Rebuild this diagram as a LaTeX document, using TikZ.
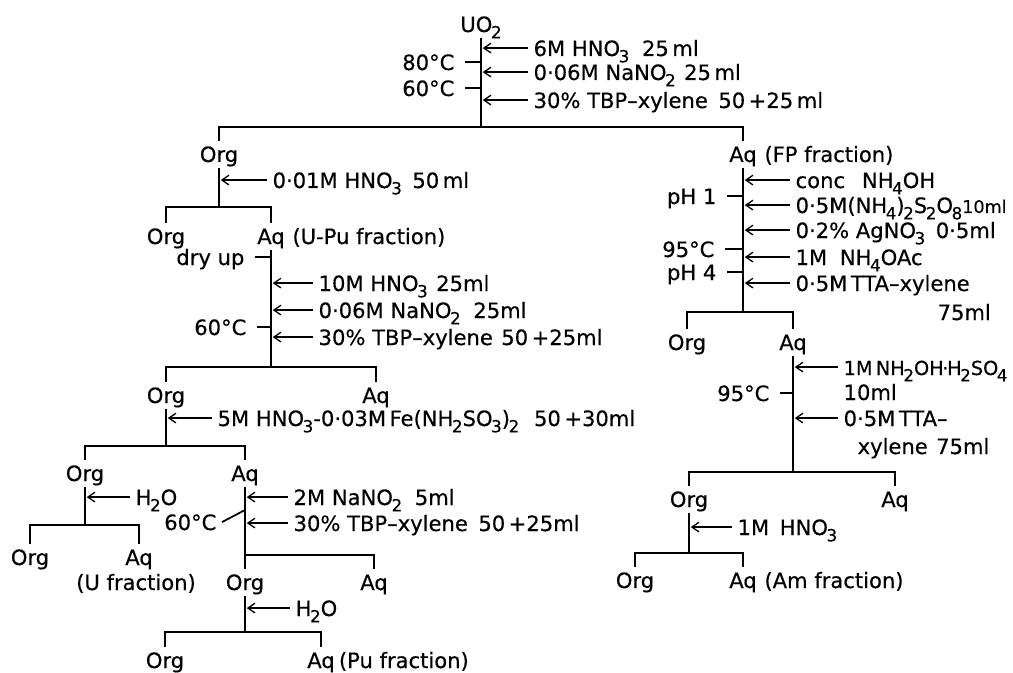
\documentclass[tikz,border=0pt]{standalone}
\usepackage{fontspec}
\setsansfont{DejaVu Sans}[FakeBold=0.4]
\usetikzlibrary{arrows.meta,positioning}
\newcommand{\chsub}[1]{\kern-0.8pt\raisebox{-3.6pt}{\fontsize{9.5}{11}\selectfont #1}}
\begin{document}
\begin{tikzpicture}[
    x=0.02cm, y=-0.02cm,
    font=\sffamily\fontsize{12}{14}\selectfont,
    phase/.style={anchor=base, text height=9pt, text depth=0pt, inner sep=3pt},
    reagent/.style={phase, anchor=base west},
    cond/.style={phase, anchor=base east},
    note/.style={phase},
    trunk/.style={line width=1.3pt},
    feed/.style={-{Straight Barb[length=4pt,width=5.5pt]}, line width=0.75pt, shorten >=1pt},
    tick/.style={line width=1pt, shorten <=3pt}
]
\useasboundingbox (0,0) rectangle (1013,672);

\node[phase] (uo2) at (481,32) {UO\chsub{2}};
\node[cond] (t80) at (460,70) {80°C};
\node[cond] (t60a) at (460,96) {60°C};
\node[reagent] (hno3a) at (528,56) {6M HNO\chsub{3}\hspace{0.6em}25\,ml};
\node[reagent] (nitritea) at (528,80) {0·06M NaNO\chsub{2}\hspace{0.4em}25\,ml};
\node[reagent] (tbpa) at (528,108) {30\% TBP–xylene\hspace{0.5em}50\,+25\,ml};
\coordinate (b0) at (uo2.south |- 0,127);
\draw[trunk] (uo2) -- (b0);
\draw[tick] (t80.east) -- (t80.east -| b0);
\draw[tick] (t60a.east) -- (t60a.east -| b0);
\draw[feed] (hno3a.west) -- (hno3a.west -| b0);
\draw[feed] (nitritea.west) -- (nitritea.west -| b0);
\draw[feed] (tbpa.west) -- (tbpa.west -| b0);

\node[phase] (org1) at (219,162) {Org};
\node[phase] (aq1) at (743,162) {Aq};
\node[note, right=-2pt of aq1] (fp) {(FP fraction)};
\draw[trunk] (org1.north) |- (b0) -| (aq1.north);

\coordinate (b1) at (org1.south |- 0,207);
\draw[trunk] (org1) -- (b1);
\node[reagent] (hno3b) at (267,188) {0·01M HNO\chsub{3}\hspace{0.5em}50\,ml};
\draw[feed] (hno3b.west) -- (hno3b.west -| b1);
\node[phase] (org2) at (166,244) {Org};
\node[phase] (aq2) at (271,244) {Aq};
\node[note, right=-2pt of aq2] (upu) {(U-Pu fraction)};
\draw[trunk] (org2.north) |- (b1) -| (aq2.north);

\node[cond] (dry) at (250,265) {dry up};
\coordinate (b2) at (aq2.south |- 0,367);
\draw[trunk] (aq2) -- (b2);
\draw[tick] (dry.east) -- (dry.east -| b2);
\node[reagent] (hno3c) at (313,291) {10M HNO\chsub{3}\hspace{0.4em}25ml};
\node[reagent] (nitriteb) at (313,318) {0·06M NaNO\chsub{2}\hspace{0.6em}25ml};
\node[cond] (t60b) at (252,335) {60°C};
\node[reagent] (tbpb) at (313,345) {30\% TBP–xylene\hspace{0.4em}50\,+25ml};
\draw[feed] (hno3c.west) -- (hno3c.west -| b2);
\draw[feed] (nitriteb.west) -- (nitriteb.west -| b2);
\draw[feed] (tbpb.west) -- (tbpb.west -| b2);
\draw[tick] (t60b.east) -- (t60b.east -| b2);

\node[phase] (org3) at (166,403) {Org};
\node[phase] (aq3) at (376,403) {Aq};
\draw[trunk] (org3.north) |- (b2) -| (aq3.north);
\coordinate (b3) at (org3.south |- 0,446);
\draw[trunk] (org3) -- (b3);
\node[reagent] (ferrous) at (212,426) {5M HNO\chsub{3}-0·03M\,Fe(NH\chsub{2}SO\chsub{3})\chsub{2}\hspace{0.7em}50\,+30ml};
\draw[feed] (ferrous.west) -- (ferrous.west -| b3);

\node[phase] (org4) at (85,481) {Org};
\node[phase] (aq4) at (245,481) {Aq};
\draw[trunk] (org4.north) |- (b3) -| (aq4.north);
\coordinate (b4) at (org4.south |- 0,525);
\draw[trunk] (org4) -- (b4);
\node[reagent] (watera) at (130,505) {H\chsub{2}O};
\draw[feed] (watera.west) -- (watera.west -| b4);
\node[phase] (org5) at (30,565) {Org};
\node[phase] (aq5) at (139,565) {Aq};
\node[phase] (ufr) at (136,590) {(U fraction)};
\draw[trunk] (org5.north) |- (b4) -| (aq5.north);

\coordinate (b5) at (aq4.south |- 0,555);
\draw[trunk] (aq4) -- (b5);
\node[reagent] (nitritec) at (288,505) {2M NaNO\chsub{2}\hspace{0.6em}5ml};
\node[reagent] (tbpc) at (288,531) {30\% TBP–xylene\hspace{0.5em}50\,+25ml};
\node[cond] (t60c) at (222,530) {60°C};
\coordinate (d60) at (aq4.south |- 0,510);
\draw[line width=1pt] (t60c.east) -- (d60);
\draw[feed] (nitritec.west) -- (nitritec.west -| b5);
\draw[feed] (tbpc.west) -- (tbpc.west -| b5);
\node[phase] (org6) at (245,590) {Org};
\node[phase] (aq6) at (374,590) {Aq};
\draw[trunk] (org6.north) |- (b5) -| (aq6.north);
\coordinate (b6) at (org6.south |- 0,632);
\draw[trunk] (org6) -- (b6);
\node[reagent] (waterb) at (290,616) {H\chsub{2}O};
\draw[feed] (waterb.west) -- (waterb.west -| b6);
\node[phase] (org7) at (165,668) {Org};
\node[phase] (aq7) at (321,668) {Aq};
\node[note, right=-4pt of aq7] (pufr) {(Pu fraction)};
\draw[trunk] (org7.north) |- (b6) -| (aq7.north);

\coordinate (b7) at (aq1.south |- 0,312);
\draw[trunk] (aq1) -- (b7);
\node[reagent] (ammonia) at (790,188) {conc\hspace{0.8em}NH\chsub{4}OH};
\node[reagent] (persulf) at (790,213) {0·5M(NH\chsub{4})\chsub{2}S\chsub{2}O\chsub{8}{\fontsize{10}{12}\selectfont 10ml}};
\node[reagent] (silver) at (790,238) {0·2\% AgNO\chsub{3}\hspace{0.5em}0·5ml};
\node[reagent] (acetate) at (790,265) {1M\hspace{0.6em}NH\chsub{4}OAc};
\node[reagent] (ttaa) at (790,291) {0·5M\,TTA–xylene};
\node[reagent] (ttaavol) at (932,320) {75ml};
\draw[feed] (ammonia.west) -- (ammonia.west -| b7);
\draw[feed] (persulf.west) -- (persulf.west -| b7);
\draw[feed] (silver.west) -- (silver.west -| b7);
\draw[feed] (acetate.west) -- (acetate.west -| b7);
\draw[feed] (ttaa.west) -- (ttaa.west -| b7);
\node[cond] (ph1) at (722,204) {pH 1};
\node[cond] (t95a) at (720,257) {95°C};
\node[cond] (ph4) at (722,280) {pH 4};
\draw[tick] (ph1.east) -- (ph1.east -| b7);
\draw[tick] (t95a.east) -- (t95a.east -| b7);
\draw[tick] (ph4.east) -- (ph4.east -| b7);

\node[phase] (org8) at (687,350) {Org};
\node[phase] (aq8) at (793,350) {Aq};
\draw[trunk] (org8.north) |- (b7) -| (aq8.north);
\coordinate (b8) at (aq8.south |- 0,472);
\draw[trunk] (aq8) -- (b8);
\node[reagent] (hydrox) at (838,375) {\fontsize{11}{13}\selectfont 1M\,NH\chsub{2}OH\kern-0.8pt·\kern-0.8pt H\chsub{2}SO\chsub{4}};
\node[reagent] (hydroxvol) at (838,400) {10ml};
\node[cond] (t95b) at (775,401) {95°C};
\node[reagent] (ttab) at (838,426) {0·5M\,TTA–};
\node[reagent] (ttabvol) at (852,454) {xylene\hspace{0.4em}75ml};
\draw[feed] (hydrox.west) -- (hydrox.west -| b8);
\draw[feed] (ttab.west) -- (ttab.west -| b8);
\draw[tick] (t95b.east) -- (t95b.east -| b8);

\node[phase] (org9) at (689,507) {Org};
\node[phase] (aq9) at (895,507) {Aq};
\draw[trunk] (org9.north) |- (b8) -| (aq9.north);
\coordinate (b9) at (org9.south |- 0,553);
\draw[trunk] (org9) -- (b9);
\node[reagent] (hno3d) at (732,535) {1M\hspace{0.5em}HNO\chsub{3}};
\draw[feed] (hno3d.west) -- (hno3d.west -| b9);
\node[phase] (org10) at (635,588) {Org};
\node[phase] (aq10) at (743,588) {Aq};
\node[note, right=-2pt of aq10] (amfr) {(Am fraction)};
\draw[trunk] (org10.north) |- (b9) -| (aq10.north);
\end{tikzpicture}
\end{document}
